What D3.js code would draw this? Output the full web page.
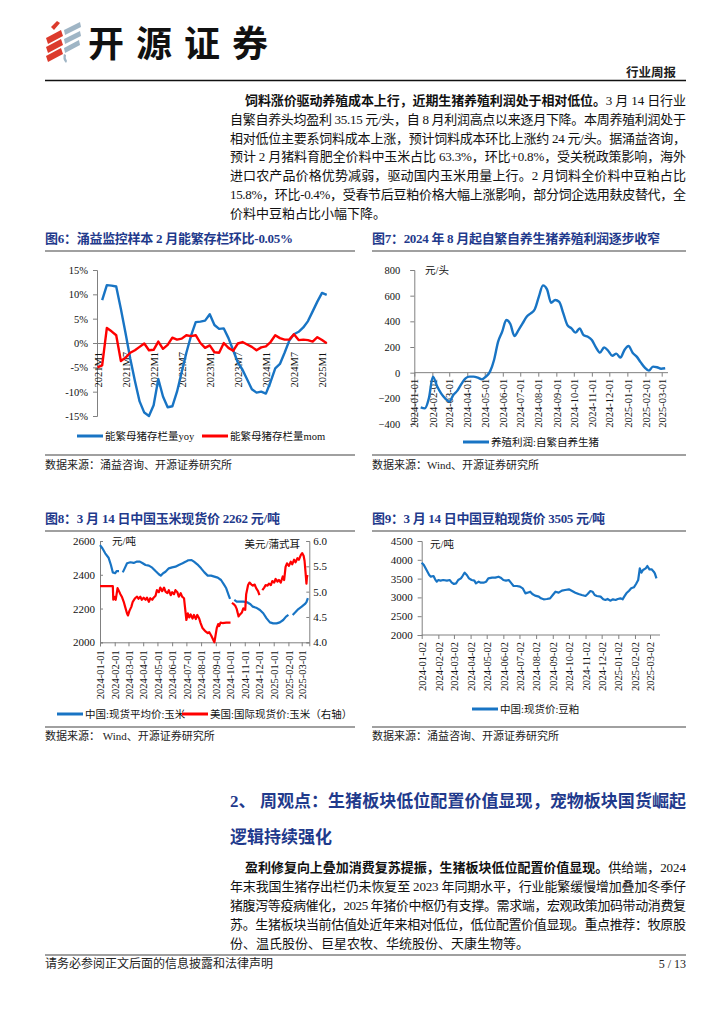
<!DOCTYPE html>
<html><head><meta charset="utf-8">
<script src="https://cdn.jsdelivr.net/npm/d3@7"></script>
<style>html,body{margin:0;padding:0;background:#fff;}svg{display:block;}</style>
</head><body>
<svg id="page" width="724" height="1024"></svg>
<script>
// ---------------- DATA ----------------
// Fig 6: monthly, 2021M1 .. 2025M2
const fig6Months = d3.range(50).map(i => `${2021 + Math.floor(i / 12)}M${i % 12 + 1}`);
const fig6XTicks = ['2021M1','2021M7','2022M1','2022M7','2023M1','2023M7','2024M1','2024M7','2025M1'];
const fig6YTicks = [15, 10, 5, 0, -5, -10, -15];
const fig6Yoy = [null, 8.8, 11.9, 11.8, 11.6, 7.0, 2.0, -3.2, -7.8, -12.0,
  -14.3, -15.0, -12.8, -7.4, -11.0, -13.2, -13.0, -10.0, -6.0, -2.0,
  1.5, 4.3, 4.4, 4.6, 5.9, 3.7, 2.9, 3.0, 1.0, -1.5,
  -4.0, -5.5, -7.5, -9.5, -10.2, -10.0, -10.4, -8.0, -5.2, -4.3,
  -2.0, 0.5, 1.8, 2.3, 3.2, 4.5, 6.5, 8.5, 10.3, 9.9];
const fig6Mom = [-5.0, -4.6, 3.1, 2.4, 1.6, -3.7, -3.0, -2.0, -1.5, -0.8,
  -0.1, -1.5, -1.4, 0.3, -1.2, -0.4, 1.1, 0.7, 0.9, 1.6,
  1.4, 1.6, 0.0, -1.0, -0.5, -1.9, -2.0, 0.0, -1.0, -1.6,
  -0.1, 0.2, -0.3, -0.8, -1.5, -0.9, -0.7, 0.2, 1.6, 1.0,
  0.7, 0.7, 1.8, 0.6, 0.7, 0.6, 0.3, 1.2, 0.6, -0.05];

// Fig 7: weekly profit (元/头), first week 2024-01-12
const fig7FirstWeek = '2024-01-12';
const fig7Profit = [-270, -278, -200, -31, -104, -161, -200, -226, -174, -140,
  -88, -44, -31, -31, -39, -52, -31, 8, 99, 242,
  320, 410, 379, 286, 332, 384, 436, 462, 494, 592,
  680, 649, 545, 566, 551, 462, 371, 345, 312, 345,
  291, 280, 254, 197, 156, 197, 171, 132, 148, 117,
  177, 208, 156, 125, 80, 39, 16, 47, 42, 31, 34];
const fig7XTicks = ['2024-01-01','2024-02-01','2024-03-01','2024-04-01','2024-05-01','2024-06-01','2024-07-01','2024-08-01','2024-09-01','2024-10-01','2024-11-01','2024-12-01','2025-01-01','2025-02-01','2025-03-01'];
const fig7YTicks = [800, 600, 400, 200, 0, -200, -400];

// Fig 8: days since 2024-01-01
const fig8CnDay = [0,5,11,18,23,27,32,35,40,44,48,52,57,64,71,78,84,90,96,103,110,117,124,128,133,138,145,152,159,166,174,181,186,193,198,205,213,220,227,234,241,248,255,261,266,271,274,279,283,288,295,302,310,317,322,329,337,344,351,358,365,372,379,386,392,397,401,406,411,418,425,432,435,438];
const fig8CnPrice = [2576,2557,2527,2501,2458,2414,2409,2422,2422,null,2414,2438,2468,2474,2470,2478,2478,2468,2458,2454,2442,2422,2403,2395,2409,2418,2438,2444,2448,2458,2468,2478,2486,2487,2478,2462,2438,2414,2395,2395,2389,2383,2369,2343,2320,2280,2257,null,2251,2241,2241,2241,2237,2225,2211,2205,2191,2172,2142,2118,2112,2112,2118,2132,2152,2162,null,2162,2176,2197,2211,2227,2238,2262];
const fig8UsDay = [0,7,14,21,27,28,30,33,35,37,40,43,46,50,53,57,59,62,66,69,74,78,81,85,88,92,96,99,103,106,110,113,117,120,124,127,131,135,138,142,145,149,152,156,159,163,166,170,173,177,179,182,185,188,191,195,198,202,205,209,212,216,220,223,227,230,234,237,241,243,246,249,251,254,258,266,275,276,278,281,285,288,292,295,299,302,306,308,312,315,319,322,326,329,333,336,339,342,346,349,353,356,360,363,367,370,374,377,381,385,388,391,394,398,402,405,409,412,416,419,423,426,429,431,433,435,436,437];
const fig8UsPrice = [5.11,5.11,5.11,5.11,5.11,4.84,4.90,4.84,4.95,5.07,5.01,4.95,4.90,4.80,4.70,4.57,4.53,4.62,4.70,4.80,4.87,4.90,4.86,4.90,4.84,4.88,4.84,4.88,4.80,4.87,4.84,4.88,4.92,5.03,4.99,5.08,5.01,5.08,5.00,4.97,5.03,4.93,4.99,4.95,5.03,4.99,4.90,4.97,4.90,4.87,4.70,4.44,4.57,4.49,4.55,4.47,4.54,4.46,4.54,4.47,4.38,4.28,4.24,4.21,4.18,4.20,4.14,4.08,4.00,4.11,4.28,4.36,4.32,4.39,4.38,4.39,4.39,null,4.78,4.76,4.72,4.66,4.51,4.55,4.59,4.67,4.64,4.95,5.13,5.18,5.14,5.12,5.14,5.07,5.01,4.93,null,5.03,5.08,5.13,5.12,5.16,5.13,5.21,5.18,5.25,5.20,5.23,5.18,5.30,5.23,5.49,5.56,5.51,5.59,5.54,5.63,5.58,5.66,5.63,5.72,5.76,5.71,5.61,5.39,5.16,5.28,5.33];
const fig8XTicks = ['2024-01-01','2024-02-01','2024-03-01','2024-04-01','2024-05-01','2024-06-01','2024-07-01','2024-08-01','2024-09-01','2024-10-01','2024-11-01','2024-12-01','2025-01-01','2025-02-01','2025-03-01'];
const fig8YLeftTicks = [2000, 2200, 2400, 2600];
const fig8YRightTicks = [4.0, 4.5, 5.0, 5.5, 6.0];

// Fig 9: days since 2024-01-02
const fig9Day = [0,4,9,14,17,22,25,28,31,35,40,47,52,56,60,64,68,73,76,80,84,88,93,98,101,106,110,115,120,124,131,137,143,147,152,157,162,166,171,177,183,188,193,197,202,206,211,218,222,227,233,239,244,249,255,261,267,274,280,286,292,298,305,309,314,318,322,326,333,338,342,346,351,356,361,365,370,374,377,381,386,390,395,399,403,406,409,412,417,420,424,428,432,434,437];
const fig9Price = [3924,3862,3729,3596,3551,3569,3480,3418,3463,3445,3463,3445,3463,3392,3356,3374,3463,3507,3569,3658,3596,3507,3463,3445,3374,3418,3392,3392,3418,3507,3525,3525,3551,3525,3463,3445,3463,3392,3303,3303,3285,3241,3108,3126,3152,3090,3046,3020,2975,2949,2958,2975,3064,3152,3126,3179,3197,3215,3170,3126,3090,3064,3037,3090,3170,3152,3064,3037,3020,2949,2931,2958,2913,2949,2931,2958,2975,2949,3020,3108,3179,3241,3268,3356,3463,3773,3658,3729,3773,3835,3746,3746,3684,3640,3505];
const fig9XTicks = ['2024-01-02','2024-02-02','2024-03-02','2024-04-02','2024-05-02','2024-06-02','2024-07-02','2024-08-02','2024-09-02','2024-10-02','2024-11-02','2024-12-02','2025-01-02','2025-02-02','2025-03-02'];
const fig9YTicks = [2000, 2500, 3000, 3500, 4000, 4500];

// ---------------- STYLE ----------------
const SERIF = "'Liberation Serif','Noto Sans CJK SC',serif";
const CJK = "'Noto Sans CJK SC','Liberation Serif',sans-serif";
const NAVY = '#1f3a8c';
const BLUE = '#1874c4';
const RED = '#ff0000';
const AX = '#808080';
const parse = d3.timeParse('%Y-%m-%d');
const fmt = d3.timeFormat('%Y-%m-%d');
const svg = d3.select('#page');

// ---------------- HEADER ----------------
const logo = svg.append('g');
const redShapes = ['M51,27 L57,21 L60,23 L54,30 Z','M46,38 L61,30 L63,36 L48,44 Z','M46,47 L61,39 L63,45 L48,53 Z','M46,56 L61,48 L63,54 L48,62 Z'];
const greyShapes = ['M64,30 L80,22 L81,27 L65,35 Z','M64,39 L80,31 L81,36 L65,44 Z','M64,48 L79,40 L80,45 L65,53 Z','M64,54 Q62,59 66,63 L67,61 Q65,58 66,55 Z'];
logo.selectAll('path.r').data(redShapes).join('path').attr('d', d => d).attr('fill', '#dc3a2c');
logo.selectAll('path.g').data(greyShapes).join('path').attr('d', d => d).attr('fill', '#9fb5c5');
svg.append('text').attr('x', 88).attr('y', 57).attr('font-family', CJK).attr('font-weight', 700)
  .attr('font-size', 36).attr('textLength', 180).attr('lengthAdjust', 'spacing').attr('fill', '#111').text('开源证券');
svg.append('text').attr('x', 676).attr('y', 77).attr('text-anchor', 'end').attr('font-family', CJK)
  .attr('font-weight', 700).attr('font-size', 12.5).attr('fill', '#222').text('行业周报');
svg.append('line').attr('x1', 45).attr('x2', 686).attr('y1', 80.5).attr('y2', 80.5).attr('stroke', '#111').attr('stroke-width', 1.3);

// ---------------- TEXT HELPERS ----------------
function textLine(x, y, parts, width, size, color) {
  const t = svg.append('text').attr('x', x).attr('y', y).attr('font-family', SERIF)
    .attr('font-size', size || 13).attr('fill', color || '#111');
  if (width) t.attr('textLength', width).attr('lengthAdjust', 'spacing');
  parts.forEach(p => t.append('tspan').attr('font-weight', p[1] ? 700 : 400).text(p[0]));
  return t;
}
const LEFT = 230, INDENT = 245, RIGHT = 686;
const p1 = [
  [[['饲料涨价驱动养殖成本上行，近期生猪养殖利润处于相对低位。', 1], ['3 月 14 日行业', 0]], true, true],
  [[['自繁自养头均盈利 35.15 元/头，自 8 月利润高点以来逐月下降。本周养殖利润处于', 0]], false, true],
  [[['相对低位主要系饲料成本上涨，预计饲料成本环比上涨约 24 元/头。据涌益咨询，', 0]], false, true],
  [[['预计 2 月猪料育肥全价料中玉米占比 63.3%，环比+0.8%，受关税政策影响，海外', 0]], false, true],
  [[['进口农产品价格优势减弱，驱动国内玉米用量上行。2 月饲料全价料中豆粕占比', 0]], false, true],
  [[['15.8%，环比-0.4%，受春节后豆粕价格大幅上涨影响，部分饲企选用麸皮替代，全', 0]], false, true],
  [[['价料中豆粕占比小幅下降。', 0]], false, false]
];
p1.forEach((l, i) => {
  const x = l[1] ? INDENT : LEFT;
  textLine(x, 105 + i * 18.8, l[0], l[2] ? RIGHT - x : null);
});
textLine(LEFT, 807, [['2、 周观点：生猪板块低位配置价值显现，宠物板块国货崛起', 1]], RIGHT - LEFT, 17, NAVY);
textLine(LEFT, 843, [['逻辑持续强化', 1]], null, 17, NAVY);
const p2 = [
  [[['盈利修复向上叠加消费复苏提振，生猪板块低位配置价值显现。', 1], ['供给端，2024', 0]], true, true],
  [[['年末我国生猪存出栏仍未恢复至 2023 年同期水平，行业能繁缓慢增加叠加冬季仔', 0]], false, true],
  [[['猪腹泻等疫病催化，2025 年猪价中枢仍有支撑。需求端，宏观政策加码带动消费复', 0]], false, true],
  [[['苏。生猪板块当前估值处近年来相对低位，低位配置价值显现。重点推荐：牧原股', 0]], false, true],
  [[['份、温氏股份、巨星农牧、华统股份、天康生物等。', 0]], false, false]
];
p2.forEach((l, i) => {
  const x = l[1] ? INDENT : LEFT;
  textLine(x, 872 + i * 19.1, l[0], l[2] ? RIGHT - x : null);
});
svg.append('line').attr('x1', 45).attr('x2', 686).attr('y1', 955).attr('y2', 955).attr('stroke', AX).attr('stroke-width', 1.5);
textLine(45, 968, [['请务必参阅正文后面的信息披露和法律声明', 0]], null, 12, '#222');
svg.append('text').attr('x', 686).attr('y', 968).attr('text-anchor', 'end').attr('font-family', SERIF)
  .attr('font-size', 12).attr('fill', '#222').text('5 / 13');

// ---------------- CHART HELPERS ----------------
function chartFrame(x0, x1, titleY, title, titleW, lineY, srcY, src) {
  textLine(x0, titleY, [[title, 1]], titleW, 13, NAVY);
  svg.append('line').attr('x1', x0).attr('x2', x1).attr('y1', titleY + 8).attr('y2', titleY + 8).attr('stroke', AX).attr('stroke-width', 1.5);
  svg.append('line').attr('x1', x0).attr('x2', x1).attr('y1', lineY).attr('y2', lineY).attr('stroke', AX).attr('stroke-width', 1.5);
  textLine(x0, srcY, [[src, 0]], null, 11, '#222');
}
function styleAxis(g, size) {
  g.select('.domain').attr('stroke', AX).attr('stroke-width', 1);
  g.selectAll('.tick line').attr('stroke', AX);
  g.selectAll('.tick text').attr('font-family', SERIF).attr('font-size', size).attr('fill', '#111');
}
function rotLabels(g, off) {
  g.selectAll('.tick text').attr('transform', 'rotate(-90)').attr('x', -off).attr('y', 0)
    .attr('dy', '0.35em').attr('text-anchor', 'end');
}
function legendItem(x, y, color, label) {
  svg.append('line').attr('x1', x).attr('x2', x + 26).attr('y1', y).attr('y2', y).attr('stroke', color).attr('stroke-width', 3);
  svg.append('text').attr('x', x + 28).attr('y', y).attr('dy', '0.35em').attr('font-family', SERIF)
    .attr('font-size', 10.5).attr('fill', '#111').text(label);
}
function unitLabel(x, y, label, anchor) {
  svg.append('text').attr('x', x).attr('y', y).attr('dy', '0.35em').attr('text-anchor', anchor || 'start')
    .attr('font-family', SERIF).attr('font-size', 10.5).attr('fill', '#111').text(label);
}

// ---------------- FIG 6 ----------------
chartFrame(45, 355, 243, '图6：涌益监控样本 2 月能繁存栏环比-0.05%', 248, 455, 469, '数据来源：涌益咨询、开源证券研究所');
{
  const x = d3.scaleLinear().domain([0, fig6Months.length - 1]).range([97.5, 326.7]);
  const y = d3.scaleLinear().domain([-15, 15]).range([416, 270]);
  const ya = svg.append('g').attr('transform', 'translate(97,0)')
    .call(d3.axisLeft(y).tickValues(fig6YTicks).tickSize(4).tickPadding(5).tickFormat(d => d + '%'));
  styleAxis(ya, 10.5);
  const xa = svg.append('g').attr('transform', `translate(0,${y(0)})`)
    .call(d3.axisBottom(x).tickValues(fig6XTicks.map(t => fig6Months.indexOf(t))).tickSize(0).tickFormat(i => fig6Months[i]));
  styleAxis(xa, 10.5);
  rotLabels(xa, 9);
  const line = d3.line().defined(d => d != null).x((d, i) => x(i)).y(d => y(d));
  svg.append('path').attr('d', line(fig6Yoy)).attr('fill', 'none').attr('stroke', BLUE).attr('stroke-width', 2.4).attr('stroke-linejoin', 'round');
  svg.append('path').attr('d', line(fig6Mom)).attr('fill', 'none').attr('stroke', RED).attr('stroke-width', 2.4).attr('stroke-linejoin', 'round');
  legendItem(77, 436, BLUE, '能繁母猪存栏量yoy');
  legendItem(202, 436, RED, '能繁母猪存栏量mom');
}

// ---------------- FIG 7 ----------------
chartFrame(372, 686, 243, '图7：2024 年 8 月起自繁自养生猪养殖利润逐步收窄', 288, 455, 469, '数据来源：Wind、开源证券研究所');
{
  const start = parse(fig7FirstWeek);
  const dates = fig7Profit.map((_, i) => d3.timeDay.offset(start, 7 * i));
  const x = d3.scaleTime().domain([parse('2024-01-01'), parse('2025-03-01')]).range([414.3, 661.7]);
  const y = d3.scaleLinear().domain([-400, 800]).range([424, 270]);
  const ya = svg.append('g').attr('transform', 'translate(414.3,0)')
    .call(d3.axisLeft(y).tickValues(fig7YTicks).tickSize(4).tickPadding(10).tickFormat(d3.format('d')));
  styleAxis(ya, 10.5);
  const xa = svg.append('g').attr('transform', `translate(0,${y(0)})`)
    .call(d3.axisBottom(x).tickValues(fig7XTicks.map(parse)).tickSize(4).tickFormat(fmt));
  xa.select('.domain').attr('d', `M414.3,0H668`);
  styleAxis(xa, 10.5);
  rotLabels(xa, 6);
  const line = d3.line().x((d, i) => x(dates[i])).y(d => y(d)).curve(d3.curveMonotoneX);
  svg.append('path').attr('d', line(fig7Profit)).attr('fill', 'none').attr('stroke', BLUE).attr('stroke-width', 2.4);
  unitLabel(425, 270, '元/头');
  legendItem(463, 442, BLUE, '养殖利润:自繁自养生猪');
}

// ---------------- FIG 8 ----------------
chartFrame(45, 355, 523, '图8：3 月 14 日中国玉米现货价 2262 元/吨', 235, 727, 740, '数据来源： Wind、开源证券研究所');
{
  const base = parse('2024-01-01');
  const x = d3.scaleTime().domain([base, d3.timeDay.offset(base, 441)]).range([100, 309.3]);
  const yL = d3.scaleLinear().domain([2000, 2600]).range([642.3, 541]);
  const yR = d3.scaleLinear().domain([4, 6]).range([642.3, 541]);
  const la = svg.append('g').attr('transform', 'translate(100,0)')
    .call(d3.axisLeft(yL).tickValues(fig8YLeftTicks).tickSize(-3).tickPadding(5).tickFormat(d3.format('d')));
  styleAxis(la, 11);
  const ra = svg.append('g').attr('transform', 'translate(309.3,0)')
    .call(d3.axisRight(yR).tickValues(fig8YRightTicks).tickSize(-3).tickPadding(4).tickFormat(d3.format('.1f')));
  styleAxis(ra, 11);
  const xa = svg.append('g').attr('transform', 'translate(0,642.3)')
    .call(d3.axisBottom(x).tickValues(fig8XTicks.map(parse)).tickSize(4).tickFormat(fmt));
  styleAxis(xa, 10.5);
  rotLabels(xa, 8);
  const cn = fig8CnPrice.map((v, i) => [d3.timeDay.offset(base, fig8CnDay[i]), v]);
  const us = fig8UsPrice.map((v, i) => [d3.timeDay.offset(base, fig8UsDay[i]), v]);
  const lineL = d3.line().defined(d => d[1] != null).x(d => x(d[0])).y(d => yL(d[1]));
  const lineR = d3.line().defined(d => d[1] != null).x(d => x(d[0])).y(d => yR(d[1]));
  svg.append('path').attr('d', lineL(cn)).attr('fill', 'none').attr('stroke', BLUE).attr('stroke-width', 2.2).attr('stroke-linejoin', 'round');
  svg.append('path').attr('d', lineR(us)).attr('fill', 'none').attr('stroke', RED).attr('stroke-width', 2.2).attr('stroke-linejoin', 'round');
  unitLabel(112, 541, '元/吨');
  unitLabel(300, 544, '美元/蒲式耳', 'end');
  legendItem(57, 714, BLUE, '中国:现货平均价:玉米');
  legendItem(182, 714, RED, '美国:国际现货价:玉米（右轴）');
}

// ---------------- FIG 9 ----------------
chartFrame(372, 686, 523, '图9：3 月 14 日中国豆粕现货价 3505 元/吨', 233, 727, 740, '数据来源：涌益咨询、开源证券研究所');
{
  const base = parse('2024-01-02');
  const x = d3.scaleTime().domain([base, parse('2025-03-02')]).range([421.7, 650]);
  const y = d3.scaleLinear().domain([2000, 4500]).range([635, 541]);
  const ya = svg.append('g').attr('transform', 'translate(421.7,0)')
    .call(d3.axisLeft(y).tickValues(fig9YTicks).tickSize(4).tickPadding(5).tickFormat(d3.format('d')));
  styleAxis(ya, 11);
  const xa = svg.append('g').attr('transform', 'translate(0,635)')
    .call(d3.axisBottom(x).tickValues(fig9XTicks.map(parse)).tickSize(4).tickFormat(fmt));
  xa.select('.domain').attr('d', 'M421.7,0H660');
  styleAxis(xa, 10.5);
  rotLabels(xa, 7);
  const pts = fig9Price.map((v, i) => [d3.timeDay.offset(base, fig9Day[i]), v]);
  const line = d3.line().x(d => x(d[0])).y(d => y(d[1]));
  svg.append('path').attr('d', line(pts)).attr('fill', 'none').attr('stroke', BLUE).attr('stroke-width', 2.2).attr('stroke-linejoin', 'round');
  unitLabel(430, 544, '元/吨');
  legendItem(472, 709, BLUE, '中国:现货价:豆粕');
}
</script>
</body></html>
